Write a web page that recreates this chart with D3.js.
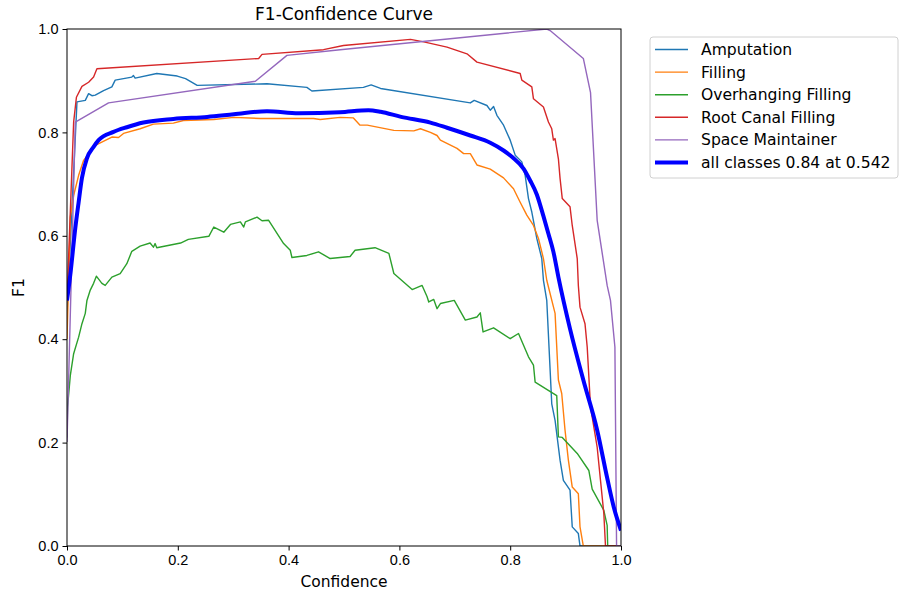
<!DOCTYPE html>
<html>
<head>
<meta charset="utf-8">
<script src="https://cdn.jsdelivr.net/npm/d3@7/dist/d3.min.js"></script>
<style>
  body { margin: 0; background: #fff; }
  svg { font-family: "DejaVu Sans", sans-serif; }
  .axis text { font-size: 14.5px; fill: #000; }
  .axis path, .axis line { stroke: #000; }
</style>
</head>
<body>
<svg id="chart" width="901" height="599"></svg>
<script>
// series, [confidence, f1]
var amputation = [[0,0.45],[0.018,0.859],[0.033,0.862],[0.039,0.875],[0.045,0.871],[0.051,0.872],[0.066,0.881],[0.081,0.888],[0.087,0.901],[0.117,0.907],[0.120,0.910],[0.123,0.905],[0.162,0.914],[0.199,0.909],[0.214,0.904],[0.235,0.891],[0.361,0.894],[0.433,0.887],[0.442,0.880],[0.535,0.887],[0.549,0.892],[0.566,0.885],[0.728,0.857],[0.735,0.862],[0.758,0.852],[0.764,0.843],[0.770,0.850],[0.776,0.833],[0.788,0.814],[0.800,0.785],[0.809,0.756],[0.821,0.743],[0.827,0.717],[0.833,0.672],[0.839,0.646],[0.848,0.595],[0.857,0.556],[0.860,0.514],[0.866,0.475],[0.875,0.275],[0.881,0.243],[0.890,0.166],[0.896,0.127],[0.908,0.108],[0.912,0.037],[0.923,0.024],[0.926,0],[1,0]];

var filling = [[0,0.40],[0.006,0.636],[0.012,0.678],[0.021,0.717],[0.030,0.746],[0.051,0.775],[0.081,0.791],[0.093,0.790],[0.102,0.798],[0.132,0.807],[0.156,0.816],[0.192,0.818],[0.210,0.823],[0.265,0.825],[0.301,0.829],[0.349,0.827],[0.445,0.827],[0.457,0.825],[0.493,0.829],[0.517,0.828],[0.529,0.814],[0.542,0.814],[0.590,0.804],[0.626,0.803],[0.638,0.807],[0.656,0.800],[0.668,0.794],[0.674,0.785],[0.704,0.769],[0.716,0.759],[0.728,0.759],[0.740,0.737],[0.764,0.729],[0.788,0.712],[0.806,0.691],[0.818,0.665],[0.830,0.640],[0.842,0.620],[0.851,0.595],[0.860,0.556],[0.866,0.514],[0.881,0.450],[0.887,0.321],[0.893,0.295],[0.899,0.224],[0.905,0.166],[0.912,0.114],[0.923,0.101],[0.926,0.037],[0.932,0],[1,0]];

var overhanging = [[0,0.21],[0.001,0.269],[0.006,0.330],[0.012,0.372],[0.014,0.379],[0.021,0.404],[0.027,0.430],[0.033,0.450],[0.036,0.475],[0.042,0.495],[0.048,0.508],[0.053,0.522],[0.063,0.508],[0.069,0.504],[0.081,0.520],[0.096,0.527],[0.108,0.546],[0.117,0.570],[0.132,0.580],[0.150,0.586],[0.156,0.578],[0.159,0.585],[0.162,0.577],[0.205,0.586],[0.219,0.593],[0.256,0.599],[0.265,0.617],[0.283,0.607],[0.295,0.622],[0.313,0.627],[0.319,0.617],[0.322,0.627],[0.343,0.636],[0.352,0.629],[0.364,0.630],[0.391,0.585],[0.403,0.572],[0.406,0.558],[0.433,0.562],[0.454,0.569],[0.475,0.556],[0.511,0.560],[0.520,0.572],[0.556,0.577],[0.581,0.566],[0.590,0.527],[0.623,0.496],[0.641,0.504],[0.650,0.482],[0.653,0.472],[0.662,0.477],[0.668,0.459],[0.674,0.469],[0.699,0.475],[0.719,0.437],[0.740,0.443],[0.746,0.451],[0.751,0.414],[0.770,0.422],[0.800,0.401],[0.815,0.411],[0.833,0.366],[0.842,0.350],[0.845,0.317],[0.884,0.291],[0.887,0.211],[0.894,0.210],[0.921,0.179],[0.942,0.146],[0.948,0.110],[0.969,0.069],[0.975,0.040],[0.976,0],[1,0]];

var rootCanal = [[0,0.475],[0.012,0.820],[0.017,0.868],[0.027,0.889],[0.039,0.897],[0.048,0.907],[0.054,0.923],[0.346,0.943],[0.352,0.951],[0.463,0.960],[0.499,0.968],[0.620,0.980],[0.644,0.975],[0.686,0.965],[0.722,0.952],[0.740,0.936],[0.818,0.914],[0.821,0.901],[0.839,0.888],[0.842,0.865],[0.860,0.849],[0.869,0.820],[0.875,0.807],[0.878,0.785],[0.881,0.788],[0.887,0.749],[0.890,0.711],[0.894,0.672],[0.908,0.656],[0.912,0.620],[0.921,0.556],[0.923,0.504],[0.926,0.462],[0.935,0.430],[0.939,0.385],[0.945,0.269],[0.957,0.191],[0.963,0.127],[0.969,0.063],[0.972,0],[1,0]];

var spaceMaintainer = [[0,0.201],[0.015,0.820],[0.075,0.857],[0.340,0.899],[0.397,0.949],[0.493,0.960],[0.866,1.0],[0.872,0.997],[0.932,0.943],[0.945,0.877],[0.957,0.630],[0.975,0.504],[0.981,0.475],[0.989,0.385],[0.992,0],[1,0]];

var allClasses = [[0,0.475],[0.006,0.525],[0.015,0.615],[0.021,0.665],[0.027,0.712],[0.036,0.750],[0.048,0.772],[0.057,0.785],[0.084,0.801],[0.108,0.810],[0.138,0.819],[0.192,0.826],[0.253,0.830],[0.301,0.835],[0.361,0.841],[0.418,0.837],[0.493,0.839],[0.544,0.843],[0.566,0.840],[0.603,0.830],[0.656,0.819],[0.686,0.809],[0.728,0.794],[0.764,0.780],[0.788,0.765],[0.804,0.752],[0.824,0.730],[0.836,0.707],[0.848,0.680],[0.860,0.638],[0.869,0.604],[0.878,0.569],[0.887,0.520],[0.908,0.420],[0.932,0.321],[0.957,0.224],[0.975,0.132],[0.987,0.075],[1.0,0.030]];

var seriesNames = ["Amputation", "Filling", "Overhanging Filling", "Root Canal Filling", "Space Maintainer", "all classes 0.84 at 0.542"];
var seriesData = [amputation, filling, overhanging, rootCanal, spaceMaintainer, allClasses];
var seriesColors = ["#1f77b4", "#ff7f0e", "#2ca02c", "#d62728", "#9467bd", "#0000ff"];
var tickValues = [0, 0.2, 0.4, 0.6, 0.8, 1.0];

var margin = {top: 29, left: 67, right: 280, bottom: 53};
var w = 901 - margin.left - margin.right;
var h = 599 - margin.top - margin.bottom;

var svg = d3.select("#chart");
var chart = svg.append("g")
    .attr("transform", "translate(" + margin.left + "," + margin.top + ")");

var x = d3.scaleLinear().domain([0, 1]).range([0, w]);
var y = d3.scaleLinear().domain([0, 1]).range([h, 0]);

chart.append("clipPath").attr("id", "clip")
    .append("rect").attr("width", w).attr("height", h);

var line = d3.line()
    .x(function(d) { return x(d[0]); })
    .y(function(d) { return y(d[1]); });

// the mean curve is smoothed in the original
var smoothLine = d3.line()
    .curve(d3.curveMonotoneX)
    .x(function(d) { return x(d[0]); })
    .y(function(d) { return y(d[1]); });

for (var i = 0; i < seriesData.length; i++) {
    chart.append("path")
        .datum(seriesData[i])
        .attr("clip-path", "url(#clip)")
        .attr("fill", "none")
        .attr("stroke", seriesColors[i])
        .attr("stroke-width", i == 5 ? 4 : 1.4)
        .attr("stroke-linejoin", "round")
        .attr("d", i == 5 ? smoothLine : line);
}

// axes
chart.append("g")
    .attr("class", "axis")
    .attr("transform", "translate(0," + h + ")")
    .call(d3.axisBottom(x).tickValues(tickValues).tickFormat(d3.format(".1f")).tickSizeOuter(0).tickSize(4.5).tickPadding(4));

chart.append("g")
    .attr("class", "axis")
    .call(d3.axisLeft(y).tickValues(tickValues).tickFormat(d3.format(".1f")).tickSizeOuter(0).tickSize(4.5).tickPadding(4));

chart.selectAll(".axis .domain").remove();

// frame
chart.append("rect")
    .attr("width", w).attr("height", h)
    .attr("fill", "none")
    .attr("stroke", "#000")
    .attr("stroke-width", 1);

chart.append("text")
    .attr("x", w / 2).attr("y", -9)
    .attr("text-anchor", "middle")
    .style("font-size", "17px")
    .text("F1-Confidence Curve");

chart.append("text")
    .attr("x", w / 2).attr("y", h + 41)
    .attr("text-anchor", "middle")
    .style("font-size", "15.5px")
    .text("Confidence");

chart.append("text")
    .attr("transform", "translate(-43," + (h / 2) + ") rotate(-90)")
    .attr("text-anchor", "middle")
    .style("font-size", "15.5px")
    .text("F1");

// legend
var legend = svg.append("g").attr("transform", "translate(650,37)");
legend.append("rect")
    .attr("width", 248).attr("height", 141)
    .attr("rx", 3)
    .attr("fill", "#fff")
    .attr("stroke", "#d0d0d0");

for (var k = 0; k < seriesNames.length; k++) {
    var ly = 12.5 + k * 22.6;
    legend.append("line")
        .attr("x1", 5).attr("x2", 38)
        .attr("y1", ly).attr("y2", ly)
        .attr("stroke", seriesColors[k])
        .attr("stroke-width", k == 5 ? 4 : 1.4);
    legend.append("text")
        .attr("x", 51).attr("y", ly)
        .attr("dy", "0.35em")
        .style("font-size", "15.6px")
        .text(seriesNames[k]);
}
</script>
</body>
</html>
